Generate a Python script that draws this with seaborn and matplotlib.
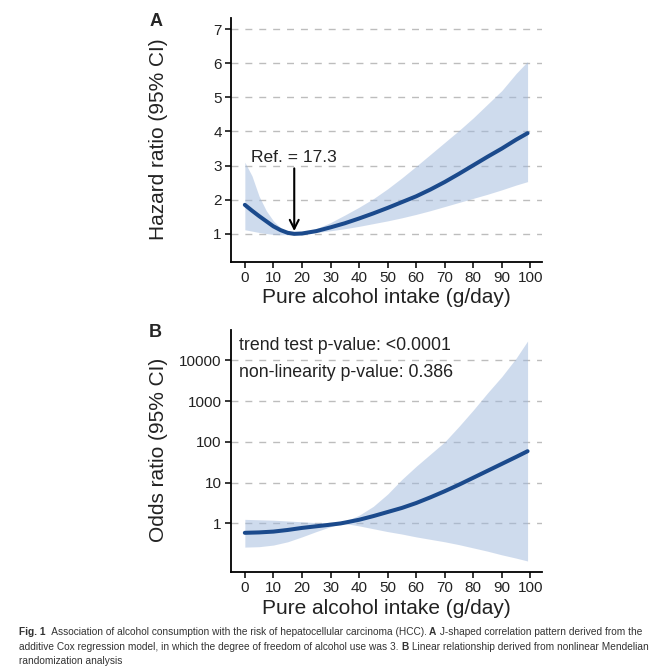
import numpy as np
import matplotlib
matplotlib.use("Agg")
import matplotlib.pyplot as plt
import seaborn as sns

# panel A: hazard ratio spline
alc_a = [0, 2.5, 5, 7.5, 10, 12.5, 15, 17.3, 20, 25, 30, 35, 40, 45, 50,
         55, 60, 65, 70, 75, 80, 85, 90, 95, 99]
hr = [1.85, 1.68, 1.52, 1.37, 1.22, 1.11, 1.03, 1.00, 1.01, 1.08, 1.19, 1.31,
      1.45, 1.60, 1.76, 1.93, 2.10, 2.30, 2.52, 2.76, 3.01, 3.26, 3.50, 3.76, 3.95]
hr_lo = [1.12, 1.08, 1.04, 1.01, 0.98, 0.97, 0.98, 1.00, 1.00, 1.04, 1.09, 1.15,
         1.22, 1.30, 1.38, 1.47, 1.57, 1.68, 1.80, 1.92, 2.04, 2.16, 2.29, 2.43, 2.53]
hr_hi = [3.10, 2.70, 2.10, 1.68, 1.38, 1.18, 1.06, 1.00, 1.03, 1.15, 1.33, 1.55,
         1.78, 2.03, 2.32, 2.64, 2.98, 3.33, 3.68, 4.03, 4.40, 4.80, 5.20, 5.70, 6.05]
hr_ticks = [1, 2, 3, 4, 5, 6, 7]
ref_value = 17.3

# panel B: odds ratio, stored as log10 values
alc_b = [0, 5, 10, 15, 20, 25, 30, 33.5, 35, 40, 45, 50, 55, 60, 65, 70, 75,
         80, 85, 90, 95, 99]
or_log = [-0.23, -0.22, -0.20, -0.16, -0.11, -0.07, -0.03, 0.0, 0.02, 0.09, 0.18,
          0.28, 0.38, 0.50, 0.64, 0.79, 0.95, 1.12, 1.29, 1.46, 1.63, 1.77]
or_lo_log = [-0.58, -0.57, -0.53, -0.45, -0.33, -0.20, -0.08, -0.01, 0.0, -0.06,
             -0.13, -0.20, -0.26, -0.33, -0.39, -0.45, -0.52, -0.60, -0.68, -0.77,
             -0.85, -0.92]
or_hi_log = [0.10, 0.09, 0.08, 0.06, 0.04, 0.02, 0.01, 0.0, 0.05, 0.20, 0.42,
             0.72, 1.08, 1.40, 1.70, 2.00, 2.38, 2.78, 3.20, 3.60, 4.05, 4.47]
or_ticks = [1, 10, 100, 1000, 10000]
p_trend = "trend test p-value: <0.0001"
p_nonlin = "non-linearity p-value: 0.386"

x_ticks = list(range(0, 101, 10))
x_title = "Pure alcohol intake (g/day)"

sns.set_style("white")
plt.rcParams["font.family"] = ["Liberation Sans", "DejaVu Sans"]

W, H = 665, 671
fig = plt.figure(figsize=(W / 100, H / 100), dpi=100)

line_col = "#1b4a8c"
band_col = "#9fb8dc"


def px(x, y):
    return x / W, 1 - y / H


def style_axis(ax):
    for s in ["top", "right"]:
        ax.spines[s].set_visible(False)
    for s in ["left", "bottom"]:
        ax.spines[s].set_color("black")
        ax.spines[s].set_linewidth(1.3)
    ax.tick_params(axis="both", direction="out", length=4, width=1.1,
                   color="black", labelsize=11, labelcolor="#222222", pad=2.5,
                   left=True, bottom=True)
    ax.yaxis.grid(True, linestyle=(0, (5, 5)), color="#bdbdbd", lw=1.0)
    ax.xaxis.grid(False)
    ax.set_xlim(-4.95, 103.95)
    ax.set_xticks(x_ticks)
    ax.set_xlabel("")
    ax.set_ylabel("")


# ---- panel A
axA = fig.add_axes([230.7 / W, 1 - 262 / H, 311 / W, 244 / H])
axA.fill_between(alc_a, hr_lo, hr_hi, color=band_col, alpha=0.5, lw=0)
sns.lineplot(x=alc_a, y=hr, ax=axA, color=line_col, lw=2.9)
style_axis(axA)
axA.set_ylim(0.175, 7.325)
axA.set_yticks(hr_ticks)
axA.annotate("", xy=(ref_value, 1.0), xytext=(ref_value, 3.0),
             arrowprops=dict(arrowstyle="->", color="black", lw=1.5,
                             mutation_scale=16))
axA.text(ref_value, 3.25, "Ref. = " + str(ref_value), ha="center", va="center",
         fontsize=12.5, color="#222222")

# ---- panel B
axB = fig.add_axes([230.7 / W, 1 - 572 / H, 311 / W, 242 / H])
or_mid = [10 ** v for v in or_log]
or_lo = [10 ** v for v in or_lo_log]
or_hi = [10 ** v for v in or_hi_log]
axB.fill_between(alc_b, or_lo, or_hi, color=band_col, alpha=0.5, lw=0)
sns.lineplot(x=alc_b, y=or_mid, ax=axB, color=line_col, lw=2.9)
axB.set_yscale("log")
style_axis(axB)
axB.set_ylim(10 ** -1.19, 10 ** 4.74)
axB.set_yticks(or_ticks)
axB.set_yticklabels([str(t) for t in or_ticks])
axB.yaxis.set_minor_locator(matplotlib.ticker.NullLocator())
axB.text(-2.2, 10 ** 4.35, p_trend, ha="left", va="center", fontsize=12.8,
         color="#222222")
axB.text(-2.2, 10 ** 3.70, p_nonlin, ha="left", va="center", fontsize=12.8,
         color="#222222")

# axis titles and panel letters
fig.text(*px(386, 297), x_title, ha="center", va="center", fontsize=15,
         color="#222222")
fig.text(*px(386, 608), x_title, ha="center", va="center", fontsize=15,
         color="#222222")
fig.text(*px(159, 139), "Hazard ratio (95% CI)", ha="center", va="center",
         rotation=90, fontsize=15, color="#222222")
fig.text(*px(159, 450), "Odds ratio (95% CI)", ha="center", va="center",
         rotation=90, fontsize=15, color="#222222")
fig.text(*px(156, 21), "A", ha="center", va="center", fontsize=13,
         fontweight="bold")
fig.text(*px(155, 332), "B", ha="center", va="center", fontsize=13,
         fontweight="bold")

# caption, with bold pieces laid out one after another
caption = [
    [("Fig. 1", True), ("  Association of alcohol consumption with the risk of hepatocellular carcinoma (HCC). ", False),
     ("A", True), (" J-shaped correlation pattern derived from the", False)],
    [("additive Cox regression model, in which the degree of freedom of alcohol use was 3. ", False),
     ("B", True), (" Linear relationship derived from nonlinear Mendelian", False)],
    [("randomization analysis", False)],
]
fig.canvas.draw()
renderer = fig.canvas.get_renderer()
for i, parts in enumerate(caption):
    xpos = 19
    ypos = 632 + i * 14.5
    for txt, bold in parts:
        t = fig.text(*px(xpos, ypos), txt, ha="left", va="center", fontsize=7.3,
                     fontweight="bold" if bold else "normal", color="#333333")
        xpos += t.get_window_extent(renderer).width

fig.savefig("out.png", dpi=100)
